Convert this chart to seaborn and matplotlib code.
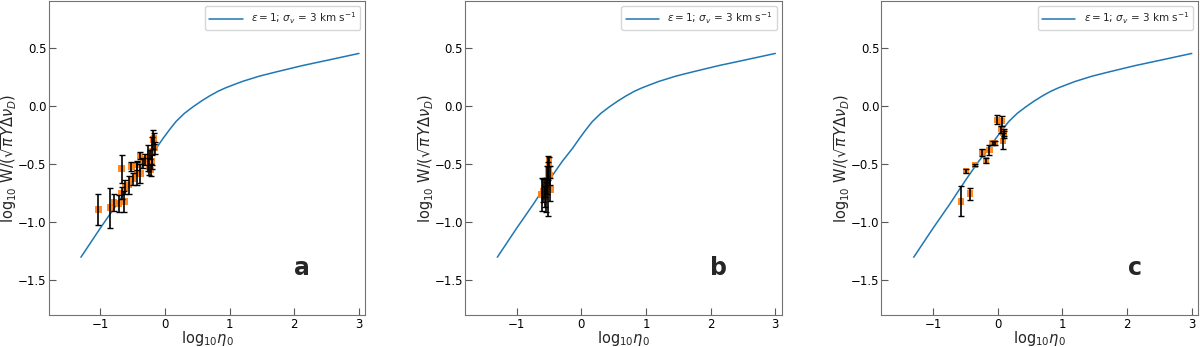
import numpy as np
import pandas as pd
import seaborn as sns
import matplotlib.pyplot as plt

# model curve (log10 eta0, log10 W/(sqrt(pi) Y dnu_D))
curve_x = [-1.3, -1.0, -0.75, -0.5, -0.3, -0.13, -0.03, 0.07, 0.17, 0.30, 0.43, 0.56, 0.69,
           0.82, 0.94, 1.07, 1.20, 1.46, 1.71, 2.12, 2.5, 3.0]
curve_y = [-1.30, -1.05, -0.85, -0.64, -0.48, -0.36, -0.28, -0.205, -0.135, -0.065, -0.01, 0.04, 0.085,
           0.125, 0.155, 0.183, 0.21, 0.255, 0.29, 0.345, 0.39, 0.45]

# panel a
a_x = [-1.03, -0.85, -0.79, -0.71, -0.67, -0.67, -0.63, -0.62, -0.56, -0.50, -0.52, -0.44, -0.43,
       -0.39, -0.38, -0.34, -0.31, -0.26, -0.24, -0.23, -0.20, -0.18, -0.17, -0.20, -0.16, -0.22]
a_y = [-0.89, -0.875, -0.83, -0.84, -0.54, -0.75, -0.82, -0.70, -0.68, -0.63, -0.52, -0.51, -0.58,
       -0.43, -0.58, -0.49, -0.46, -0.45, -0.52, -0.42, -0.39, -0.29, -0.28, -0.48, -0.36, -0.55]
a_err = [0.13, 0.17, 0.07, 0.07, 0.12, 0.05, 0.09, 0.06, 0.08, 0.05, 0.04, 0.04, 0.10,
         0.03, 0.08, 0.04, 0.05, 0.11, 0.07, 0.04, 0.12, 0.08, 0.05, 0.06, 0.05, 0.05]

# panel b
b_x = [-0.615, -0.59, -0.56, -0.55, -0.52, -0.51, -0.50, -0.49, -0.48, -0.51, -0.57, -0.53]
b_y = [-0.76, -0.73, -0.70, -0.78, -0.69, -0.58, -0.48, -0.60, -0.72, -0.55, -0.78, -0.64]
b_err = [0.14, 0.10, 0.08, 0.13, 0.26, 0.06, 0.04, 0.08, 0.10, 0.07, 0.09, 0.12]

# panel c
c_x = [-0.57, -0.43, -0.49, -0.35, -0.24, -0.18, -0.13, -0.08, -0.04, -0.01, 0.06, 0.05, 0.09, 0.08, 0.10]
c_y = [-0.82, -0.755, -0.56, -0.51, -0.40, -0.47, -0.38, -0.32, -0.32, -0.12, -0.13, -0.20, -0.23, -0.30, -0.25]
c_err = [0.13, 0.05, 0.02, 0.01, 0.03, 0.02, 0.04, 0.02, 0.02, 0.04, 0.04, 0.03, 0.03, 0.07, 0.03]

panels = [(a_x, a_y, a_err, 'a'), (b_x, b_y, b_err, 'b'), (c_x, c_y, c_err, 'c')]

sns.set_style('white')
plt.rcParams['font.family'] = ['DejaVu Sans']

fig = plt.figure(figsize=(12, 3.47), dpi=100)
lefts = [0.0405, 0.3875, 0.7345]
curve = pd.DataFrame({'x': curve_x, 'y': curve_y})

for left, (px, py, pe, letter) in zip(lefts, panels):
    ax = fig.add_axes([left, 0.091, 0.264, 0.906])
    sns.lineplot(data=curve, x='x', y='y', ax=ax, color='#1f77b4', lw=1.1,
                 label=r'$\varepsilon=1$; $\sigma_v$ = 3 km s$^{-1}$')
    pts = pd.DataFrame({'x': px, 'y': py})
    sns.scatterplot(data=pts, x='x', y='y', ax=ax, marker='s', s=22, color='#ff7f0e',
                    edgecolor='none', alpha=0.9, zorder=3)
    ax.errorbar(px, py, yerr=pe, fmt='none', ecolor='black', elinewidth=1.2,
                capsize=2, capthick=1, zorder=4)
    ax.set_xlim(-1.8, 3.1)
    ax.set_ylim(-1.8, 0.9)
    ax.set_xticks([-1, 0, 1, 2, 3])
    ax.set_yticks([-1.5, -1.0, -0.5, 0.0, 0.5])
    ax.tick_params(direction='in', length=5, pad=1.5, labelsize=8.5, colors='0.35',
                   labelcolor='black', left=True, bottom=True)
    for sp in ax.spines.values():
        sp.set_color('0.45')
    ax.set_xlabel(r'log$_{10}\eta_0$', fontsize=10.5, labelpad=-1)
    ax.set_ylabel(r'log$_{10}$ W/($\sqrt{\pi}Y\Delta\nu_D$)', fontsize=10.5, labelpad=-1)
    ax.legend(loc='upper right', fontsize=7.5, frameon=True, handlelength=3.2)
    ax.text(0.80, 0.15, letter, transform=ax.transAxes, fontsize=17, fontweight='bold',
            ha='center', va='center')

fig.savefig('out.png', dpi=100)
